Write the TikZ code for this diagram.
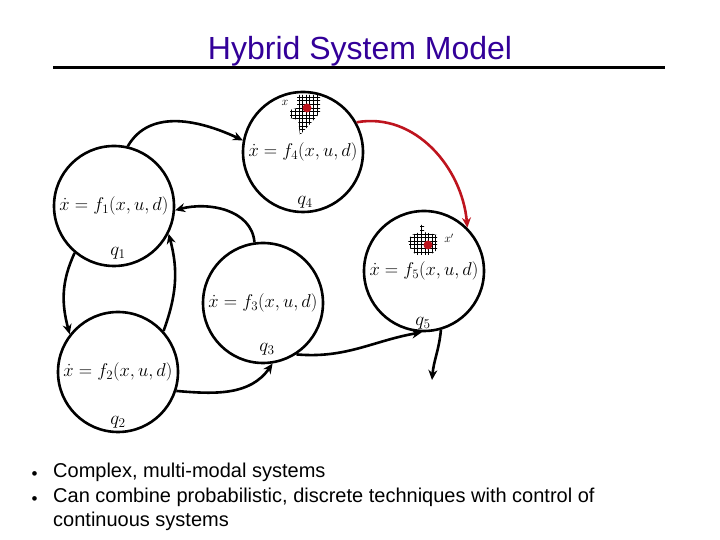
\RequirePackage{fix-cm}
\documentclass[tikz,border=0pt]{standalone}
\usepackage{fontspec}
\setmainfont{Liberation Sans}
\usetikzlibrary{arrows.meta}
\definecolor{titleblue}{RGB}{51,0,153}
\definecolor{jumpred}{RGB}{190,20,30}
\tikzset{
  mode/.style={circle, draw, line width=2.6pt, minimum size=120pt, inner sep=0pt,
    font=\fontsize{18.5}{18.5}\selectfont},
  modelabel/.style={font=\fontsize{19}{19}\selectfont},
  edge/.style={->, line width=2.6pt},
  >={Stealth[length=10pt,width=9pt]}
}
\begin{document}
\begin{tikzpicture}[x=1pt,y=1pt]
  \useasboundingbox (0,0) rectangle (720,540);

  % Title and rule
  \node[titleblue, font=\fontsize{32}{32}\selectfont] (title) at (360,489) {Hybrid System Model};
  \draw[line width=3pt] (53,472) -- (665,472);

  % Modes
  \node[mode] (q4) at (303,388) {$\dot x = f_4(x,u,d)$};
  \node[mode] (q1) at (114,334) {$\dot x = f_1(x,u,d)$};
  \node[mode] (q2) at (118,168) {$\dot x = f_2(x,u,d)$};
  \node[mode] (q3) at (263,237) {$\dot x = f_3(x,u,d)$};
  \node[mode] (q5) at (424,269) {$\dot x = f_5(x,u,d)$};

  % Mode names
  \node[modelabel] (l4) at (305,338) {$q_4$};
  \node[modelabel] (l1) at (118,287) {$q_1$};
  \node[modelabel] (l2) at (118,118) {$q_2$};
  \node[modelabel] (l3) at (267,191) {$q_3$};
  \node[modelabel] (l5) at (423,217) {$q_5$};

  % Reachable sets
  \begin{scope}
    \clip (297,445) -- (320,445) -- (320,427) -- (300,405) -- (298,420) -- (290,422)
      -- (290,430) -- (297,432) -- cycle;
    \draw[step=3.6pt, line width=0.6pt] (288,403) grid (322,447);
  \end{scope}
  \fill[jumpred] (307,432) circle (4.5pt);
  \node[font=\fontsize{12}{12}\selectfont] (x0) at (285,437) {$x$};

  \begin{scope}
    \clip (420,315) -- (424,315) -- (424,308) -- (437,305) -- (437,290) -- (430,285)
      -- (416,285) -- (410,292) -- (408,300) -- (412,305) -- (420,308) -- cycle;
    \draw[step=3.6pt, line width=0.6pt] (406,283) grid (439,317);
  \end{scope}
  \fill[jumpred] (428,295) circle (4.5pt);
  \node[font=\fontsize{12}{12}\selectfont] (xf) at (449,302) {$x'$};

  % Transitions
  \coordinate (exit) at (432,160);
  \draw[edge] (q1.77) to[out=60, in=155] (q4.169);
  \draw[edge] (q3.98) to[out=95, in=15] (q1.-4);
  \draw[edge] (q2.42) to[out=70, in=-75] (q1.-27);
  \draw[edge] (q1.230) to[out=245, in=105] (q2.142);
  \draw[edge] (q2.-18) to[out=-5, in=-125] (q3.-81);
  \draw[edge] (q3.-57) to[out=-5, in=190] (q5.-92);
  \draw[edge] (q5.-74) to[out=-95, in=85] (exit);
  \draw[edge, jumpred] (q4.29) to[out=10, in=95] (q5.45);

  % Bullets
  \node[anchor=west, font=\fontsize{17}{17}\selectfont] (b1) at (28,64) {\textbullet};
  \node[anchor=west, font=\fontsize{17}{17}\selectfont] (b2) at (28,39) {\textbullet};
  \node[anchor=north west, align=left, inner sep=0pt, font=\fontsize{20}{24.5}\selectfont]
    (txt) at (53,77) {Complex, multi-modal systems\\
    Can combine probabilistic, discrete techniques with control of\\
    continuous systems};
\end{tikzpicture}
\end{document}
